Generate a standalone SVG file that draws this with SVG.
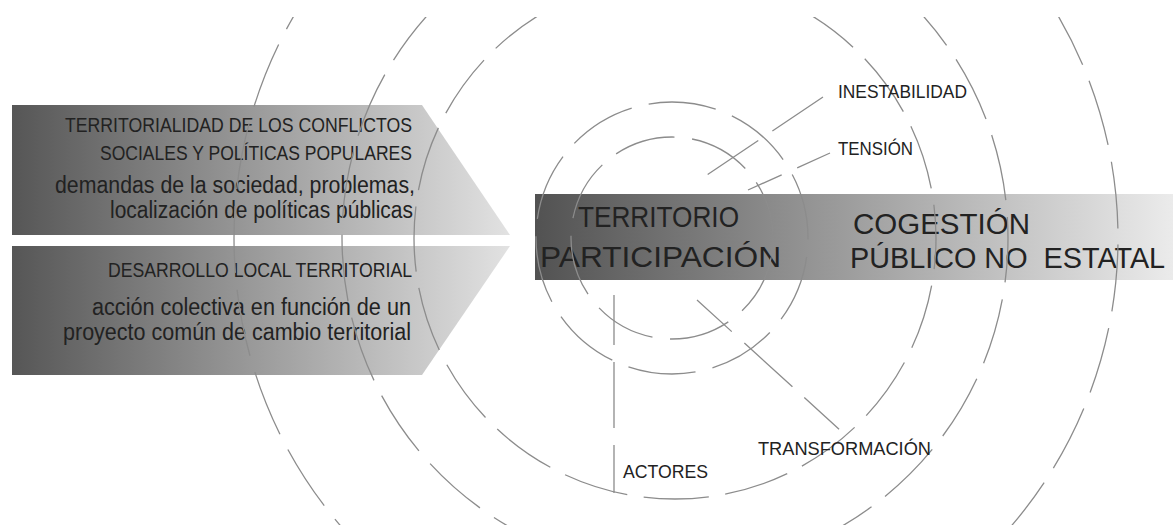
<svg xmlns="http://www.w3.org/2000/svg" width="1173" height="525" viewBox="0 0 1173 525">
<style>
.ring{fill:none;stroke:#8c8c8c;stroke-width:1.3}
.lead{stroke:#8c8c8c;stroke-width:1.3;fill:none}
.t{font-family:"Liberation Sans",Arial,sans-serif;fill:#222222;}
.big{font-size:30px}
.cap{font-size:20px}
.low{font-size:23px}
.lab{font-size:18px}
</style>
<defs>
<linearGradient id="gLeft" x1="12" y1="0" x2="510" y2="0" gradientUnits="userSpaceOnUse">
<stop offset="0" stop-color="#565656"/>
<stop offset="1" stop-color="#e2e2e2"/>
</linearGradient>
<linearGradient id="gBar" x1="535" y1="0" x2="1173" y2="0" gradientUnits="userSpaceOnUse">
<stop offset="0" stop-color="#525252"/>
<stop offset="1" stop-color="#ebebeb"/>
</linearGradient>
<clipPath id="clipTop"><rect x="0" y="17" width="1173" height="508"/></clipPath>
</defs>
<rect width="1173" height="525" fill="#ffffff"/>

<g id="block-conflictos">
<polygon points="12,105 422,105 510,235 12,235" fill="url(#gLeft)"/>
<text class="t cap" x="65" y="132" textLength="347" lengthAdjust="spacingAndGlyphs">TERRITORIALIDAD DE LOS CONFLICTOS</text>
<text class="t cap" x="100" y="160" textLength="312" lengthAdjust="spacingAndGlyphs">SOCIALES Y POLÍTICAS POPULARES</text>
<text class="t low" x="55" y="193" textLength="360" lengthAdjust="spacingAndGlyphs">demandas de la sociedad, problemas,</text>
<text class="t low" x="110" y="218" textLength="303" lengthAdjust="spacingAndGlyphs">localización de políticas públicas</text>
</g>

<g id="block-desarrollo">
<polygon points="12,246 510,246 422,375 12,375" fill="url(#gLeft)"/>
<text class="t cap" x="108" y="277" textLength="304" lengthAdjust="spacingAndGlyphs">DESARROLLO LOCAL TERRITORIAL</text>
<text class="t low" x="92" y="315" textLength="319" lengthAdjust="spacingAndGlyphs">acción colectiva en función de un</text>
<text class="t low" x="63" y="340" textLength="348" lengthAdjust="spacingAndGlyphs">proyecto común de cambio territorial</text>
</g>

<g id="bar">
<rect x="535" y="194" width="638" height="86" fill="url(#gBar)"/>
<text class="t big" x="578" y="227" textLength="161" lengthAdjust="spacingAndGlyphs">TERRITORIO</text>
<text class="t big" x="540" y="267" textLength="241" lengthAdjust="spacingAndGlyphs">PARTICIPACIÓN</text>
<text class="t big" x="853" y="234" textLength="177" lengthAdjust="spacingAndGlyphs">COGESTIÓN</text>
<text class="t big" transform="translate(850,268) scale(0.96,1)" x="0" y="0" xml:space="preserve">PÚBLICO NO  ESTATAL</text>
</g>

<g id="rings" clip-path="url(#clipTop)">
<circle class="ring" cx="672" cy="238" r="101" stroke-dasharray="61.7 17.63" stroke-dashoffset="-19.4"/>
<circle class="ring" cx="672" cy="238" r="136" stroke-dasharray="68 17.45" stroke-dashoffset="-19"/>
<circle class="ring" cx="675" cy="238" r="261" stroke-dasharray="65.5 16.5" stroke-dashoffset="-47.8"/>
<circle class="ring" cx="675" cy="238" r="333" stroke-dasharray="66.7 17" stroke-dashoffset="-61.6"/>
<circle class="ring" cx="676" cy="238" r="442" stroke-dasharray="67 17.16" stroke-dashoffset="-6.7"/>
</g>

<g id="connectors">
<line class="lead" x1="823" y1="97" x2="707" y2="175" stroke-dasharray="61 17"/>
<line class="lead" x1="830" y1="153" x2="748" y2="190" stroke-dasharray="36 17 40"/>
<line class="lead" x1="697" y1="300" x2="840" y2="430" stroke-dasharray="47 17 65 16 47"/>
<line class="lead" x1="614" y1="295" x2="614" y2="493" stroke-dasharray="50 17 66 17 48"/>
</g>

<g id="label-inestabilidad"><text class="t lab" x="838" y="98" textLength="129" lengthAdjust="spacingAndGlyphs">INESTABILIDAD</text></g>
<g id="label-tension"><text class="t lab" x="838" y="155" textLength="75" lengthAdjust="spacingAndGlyphs">TENSIÓN</text></g>
<g id="label-transformacion"><text class="t lab" x="758" y="455" textLength="173" lengthAdjust="spacingAndGlyphs">TRANSFORMACIÓN</text></g>
<g id="label-actores"><text class="t lab" x="623" y="478" textLength="85" lengthAdjust="spacingAndGlyphs">ACTORES</text></g>
</svg>
